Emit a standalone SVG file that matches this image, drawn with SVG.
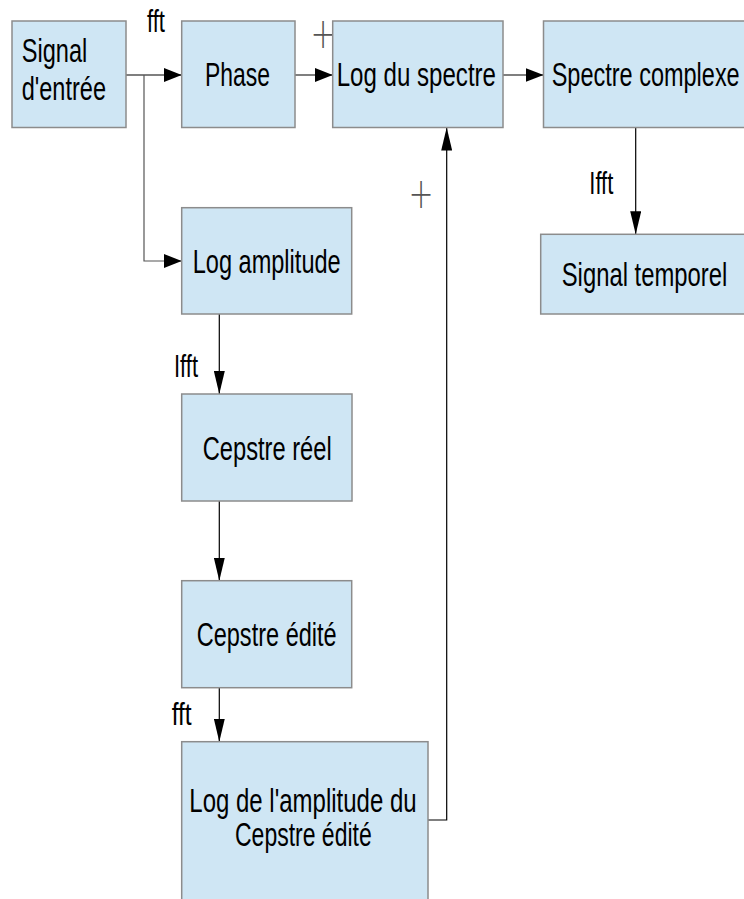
<svg xmlns="http://www.w3.org/2000/svg" width="744" height="899" viewBox="0 0 744 899">
<style>
  .box { fill: #cfe6f4; stroke: #8c8c8c; stroke-width: 1.5; }
  .t { font-family: "Liberation Sans Narrow", "Liberation Sans", sans-serif; font-size: 33px; fill: #000; }
  .lbl { font-family: "Liberation Sans Narrow", "Liberation Sans", sans-serif; font-size: 31px; fill: #000; }
  .plus { font-family: "DejaVu Sans", sans-serif; font-weight: 200; font-size: 30px; fill: #555; }
  .c { fill: none; stroke: #000; stroke-width: 1.2; }
  .cg { fill: none; stroke: #555; stroke-width: 1.2; }
</style>
<defs>
  <marker id="ah" viewBox="0 0 18 14" refX="18" refY="7" markerWidth="18" markerHeight="14" markerUnits="userSpaceOnUse" orient="auto">
    <path d="M0,0 L18,7 L0,14 z" fill="#000"/>
  </marker>
  <marker id="av" viewBox="0 0 23 11" refX="23" refY="5.5" markerWidth="23" markerHeight="11" markerUnits="userSpaceOnUse" orient="auto">
    <path d="M0,0 L23,5.5 L0,11 z" fill="#000"/>
  </marker>
</defs>
<rect width="744" height="899" fill="#fff"/>

<g id="connectors">
  <path class="c" d="M126,75 H181.7" marker-end="url(#ah)"/>
  <path class="cg" d="M144,75 V261 H181.7" marker-end="url(#ah)"/>
  <path class="c" d="M295,75 H332.7" marker-end="url(#ah)"/>
  <path class="c" d="M503,75 H543.5" marker-end="url(#ah)"/>
  <path class="c" d="M635.7,127.5 V234.3" marker-end="url(#av)"/>
  <path class="c" d="M219.3,314 V394" marker-end="url(#av)"/>
  <path class="c" d="M219.3,501 V580.7" marker-end="url(#av)"/>
  <path class="c" d="M219.3,687.7 V741.7" marker-end="url(#av)"/>
  <path class="c" d="M428,820 H446.7 V127.5" marker-end="url(#av)"/>
</g>

<g id="labels">
  <text class="lbl" x="147" y="32" textLength="18" lengthAdjust="spacingAndGlyphs">fft</text>
  <text class="lbl" x="174" y="377" textLength="24" lengthAdjust="spacingAndGlyphs">Ifft</text>
  <text class="lbl" x="589.3" y="194" textLength="24" lengthAdjust="spacingAndGlyphs">Ifft</text>
  <text class="lbl" x="171.7" y="725" textLength="20" lengthAdjust="spacingAndGlyphs">fft</text>
  <text class="plus" transform="translate(323,34.2) scale(1,1.4)" x="0" y="10.2" text-anchor="middle">+</text>
  <text class="plus" transform="translate(421,193.3) scale(1,1.4)" x="0" y="10.2" text-anchor="middle">+</text>
</g>

<g id="signal-entree">
  <rect class="box" x="12" y="21" width="114" height="106.5"/>
  <text class="t" x="21.7" y="62" textLength="65.6" lengthAdjust="spacingAndGlyphs">Signal</text>
  <text class="t" x="21.7" y="99.5" textLength="84.3" lengthAdjust="spacingAndGlyphs">d'entrée</text>
</g>
<g id="phase">
  <rect class="box" x="181.7" y="21" width="113.3" height="106.5"/>
  <text class="t" x="205" y="86" textLength="65" lengthAdjust="spacingAndGlyphs">Phase</text>
</g>
<g id="log-spectre">
  <rect class="box" x="332.7" y="21" width="170.3" height="106.5"/>
  <text class="t" x="336.7" y="86" textLength="159.3" lengthAdjust="spacingAndGlyphs">Log du spectre</text>
</g>
<g id="spectre-complexe">
  <rect class="box" x="543.5" y="21" width="201.5" height="106.5"/>
  <text class="t" transform="translate(551.7,86) scale(0.72,1)" x="0" y="0" textLength="261.1" lengthAdjust="spacingAndGlyphs">Spectre complexe</text>
</g>
<g id="signal-temporel">
  <rect class="box" x="540.7" y="234.3" width="204.3" height="79.7"/>
  <text class="t" transform="translate(561.7,286) scale(0.72,1)" x="0" y="0" textLength="230" lengthAdjust="spacingAndGlyphs">Signal temporel</text>
</g>
<g id="log-amplitude">
  <rect class="box" x="181.7" y="207.7" width="170" height="106.3"/>
  <text class="t" x="192.7" y="272.5" textLength="148" lengthAdjust="spacingAndGlyphs">Log amplitude</text>
</g>
<g id="cepstre-reel">
  <rect class="box" x="181.7" y="394" width="170.3" height="107"/>
  <text class="t" x="202.7" y="459.5" textLength="129" lengthAdjust="spacingAndGlyphs">Cepstre réel</text>
</g>
<g id="cepstre-edite">
  <rect class="box" x="181.7" y="580.7" width="170" height="107"/>
  <text class="t" x="196.7" y="646" textLength="140" lengthAdjust="spacingAndGlyphs">Cepstre édité</text>
</g>
<g id="log-amplitude-cepstre">
  <rect class="box" x="181.7" y="741.7" width="246.3" height="160"/>
  <text class="t" x="189.3" y="812" textLength="227.3" lengthAdjust="spacingAndGlyphs">Log de l'amplitude du</text>
  <text class="t" x="235" y="846" textLength="136.7" lengthAdjust="spacingAndGlyphs">Cepstre édité</text>
</g>
</svg>
